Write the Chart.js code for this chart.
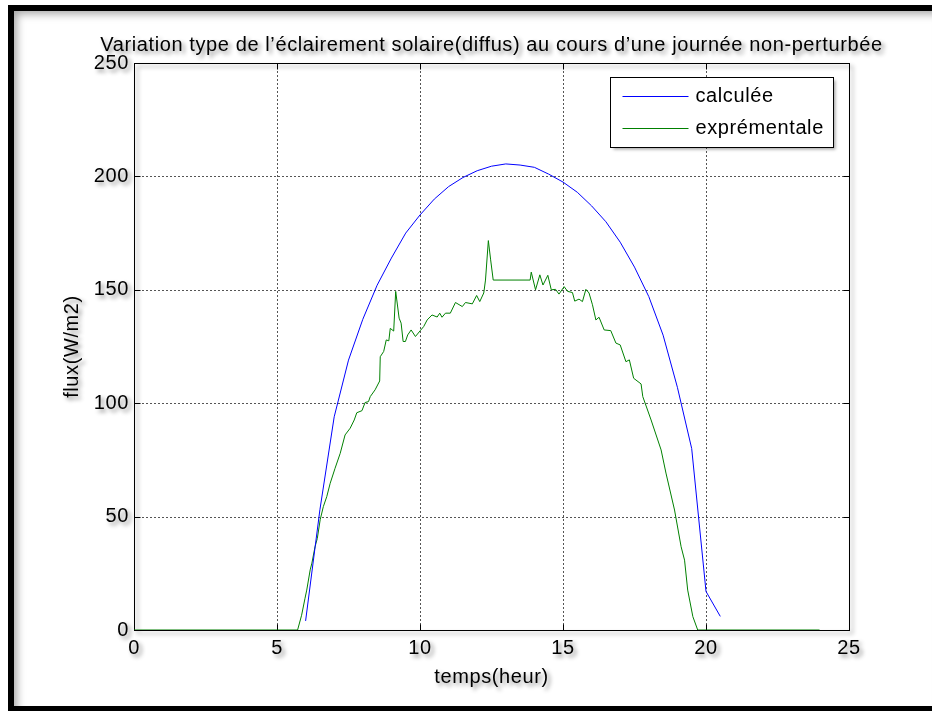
<!DOCTYPE html>
<html>
<head>
<meta charset="utf-8">
<title>Éclairement solaire diffus</title>
<script src="https://cdn.jsdelivr.net/npm/chart.js@4/dist/chart.umd.min.js"></script>
<style>
  html, body { margin: 0; padding: 0; background: #fff; overflow: hidden; width: 932px; height: 711px; }
  #frame {
    position: absolute; left: 8px; top: 5px; width: 918px; height: 695px;
    border-left: 6px solid #000; border-top: 6px solid #000; border-bottom: 5px solid #000;
    box-shadow: inset 6px 6px 8px -3px rgba(0, 0, 0, 0.35);
  }
  #fluxChart { position: absolute; left: 0; top: 0; }
</style>
</head>
<body>
<div id="frame"></div>
<canvas id="fluxChart" width="932" height="711"></canvas>
<script>
const chartTitle = 'Variation type de l’éclairement solaire(diffus) au cours d’une journée non-perturbée';

// axes
const xTicks = [0, 5, 10, 15, 20, 25];
const yTicks = [0, 50, 100, 150, 200, 250];

// modele (pas d'une demi-heure)
const hoursCalc = [6, 6.5, 7, 7.5, 8, 8.5, 9, 9.5, 10, 10.5, 11, 11.5, 12, 12.5, 13,
    13.5, 14, 14.5, 15, 15.5, 16, 16.5, 17, 17.5, 18, 18.5, 19, 19.5, 20, 20.5];
const fluxCalc = [4, 53, 94, 119, 137, 152, 164, 175, 183, 190, 195.5, 199.5, 202.5, 204.5, 205.5,
    205, 204, 201, 197.5, 193, 187, 180, 171, 160, 147, 130, 107, 80, 17, 6];

// mesures
const hoursMes = [0, 5.72, 5.86, 5.98, 6.04, 6.16, 6.22, 6.33, 6.41, 6.51, 6.62, 6.74, 6.86, 7.03,
    7.21, 7.38, 7.56, 7.70, 7.79, 7.97, 8.08, 8.20, 8.26, 8.43, 8.59, 8.61, 8.73, 8.82, 8.91, 8.96,
    9.08, 9.15, 9.27, 9.34, 9.41, 9.49, 9.57, 9.69, 9.84, 10.01, 10.13, 10.25, 10.42, 10.60, 10.69,
    10.77, 10.89, 11.06, 11.24, 11.48, 11.59, 11.83, 11.98, 12.09, 12.23, 12.29, 12.39, 12.47, 12.56,
    13.85, 13.89, 14.04, 14.19, 14.30, 14.47, 14.59, 14.74, 14.86, 15.04, 15.16, 15.33, 15.41, 15.56,
    15.68, 15.80, 15.91, 16.03, 16.15, 16.26, 16.44, 16.67, 16.85, 17.00, 17.20, 17.32, 17.47, 17.73,
    17.79, 18.08, 18.43, 18.60, 18.90, 19.13, 19.25, 19.36, 19.54, 19.71, 23.97];
const fluxMes = [0, 0, 6.5, 14, 17.6, 26.5, 29.5, 36.7, 40.4, 48.6, 54.4, 58.8, 64.7, 71.3,
    77.9, 86, 89, 92.6, 95.8, 96.7, 100.3, 100.7, 102.9, 105.9, 109.8, 120.5, 122.8, 127.9, 127.5, 133,
    131.8, 149.3, 137.5, 135.3, 127.2, 127.2, 130.1, 132.3, 129.4, 132, 133.8, 136.7, 138.9, 138, 139.7,
    137.9, 139.7, 139.7, 144.4, 142.6, 144.4, 143.8, 147.5, 144.8, 148.6, 154.3, 171.7, 163.2, 154.3,
    154.3, 157.8, 150, 156.6, 152.1, 156.4, 150, 150.2, 148.1, 151.4, 149.3, 148.8, 145, 145.9,
    144.8, 150.2, 148.6, 143.4, 136.7, 137.9, 132.3, 132, 126.5, 125.7, 118.3, 119.1, 111, 108.5,
    102.9, 92.6, 79.4, 69.2, 52.9, 36.7, 30.8, 17.6, 5.9, 0, 0];

const FONT = 'Liberation Sans, Arial, Helvetica, sans-serif';
const SPACING = '0.6px';

function toPoints(xs, ys) {
    return xs.map((x, i) => ({ x: x, y: ys[i] }));
}

function textShadow(ctx, on) {
    ctx.shadowColor = on ? 'rgba(0, 0, 0, 0.45)' : 'rgba(0, 0, 0, 0)';
    ctx.shadowBlur = on ? 4 : 0;
    ctx.shadowOffsetX = on ? 3 : 0;
    ctx.shadowOffsetY = on ? 3 : 0;
}

// grille pointillee, cadre, graduations vers l'interieur et titre centre sur les axes (style matlab)
const matlabAxes = {
    id: 'matlabAxes',
    beforeDraw(chart) {
        const { ctx, chartArea: a, scales: { x, y } } = chart;
        ctx.save();
        ctx.lineWidth = 1;
        ctx.strokeStyle = '#555';
        ctx.setLineDash([2, 2]);
        ctx.beginPath();
        x.ticks.forEach(t => {
            const px = Math.round(x.getPixelForValue(t.value)) + 0.5;
            if (px > a.left + 1 && px < a.right - 1) {
                ctx.moveTo(px, a.top);
                ctx.lineTo(px, a.bottom);
            }
        });
        y.ticks.forEach(t => {
            const py = Math.round(y.getPixelForValue(t.value)) + 0.5;
            if (py > a.top + 1 && py < a.bottom - 1) {
                ctx.moveTo(a.left, py);
                ctx.lineTo(a.right, py);
            }
        });
        ctx.stroke();
        ctx.setLineDash([]);

        const l = Math.round(a.left) + 0.5, r = Math.round(a.right) + 0.5;
        const t0 = Math.round(a.top) + 0.5, b = Math.round(a.bottom) + 0.5;
        ctx.strokeStyle = '#000';
        textShadow(ctx, true);
        ctx.strokeRect(l, t0, r - l, b - t0);
        textShadow(ctx, false);

        ctx.beginPath();
        x.ticks.forEach(t => {
            const px = Math.round(x.getPixelForValue(t.value)) + 0.5;
            ctx.moveTo(px, b); ctx.lineTo(px, b - 6);
            ctx.moveTo(px, t0); ctx.lineTo(px, t0 + 6);
        });
        y.ticks.forEach(t => {
            const py = Math.round(y.getPixelForValue(t.value)) + 0.5;
            ctx.moveTo(l, py); ctx.lineTo(l + 6, py);
            ctx.moveTo(r, py); ctx.lineTo(r - 6, py);
        });
        ctx.stroke();

        // titre : plus large que la zone des axes, donc dessine ici
        textShadow(ctx, true);
        ctx.letterSpacing = SPACING;
        ctx.font = '20px ' + FONT;
        ctx.fillStyle = '#000';
        ctx.textAlign = 'center';
        ctx.textBaseline = 'middle';
        ctx.fillText(chartTitle, (a.left + a.right) / 2, a.top - 18);
        ctx.restore();

        // les textes des axes sont dessines ensuite, avec une ombre
        textShadow(ctx, true);
        ctx.letterSpacing = SPACING;
    },
    beforeDatasetsDraw(chart) {
        textShadow(chart.ctx, false);
    }
};

// legende encadree en haut a droite
const boxLegend = {
    id: 'boxLegend',
    afterDatasetsDraw(chart) {
        const { ctx, chartArea: a } = chart;
        const w = 223, h = 70;
        const left = Math.round(a.right - 16 - w) + 0.5, top = Math.round(a.top + 14) + 0.5;
        ctx.save();
        ctx.fillStyle = '#fff';
        ctx.shadowColor = 'rgba(0, 0, 0, 0.35)';
        ctx.shadowBlur = 3;
        ctx.shadowOffsetX = 2;
        ctx.shadowOffsetY = 2;
        ctx.fillRect(left, top, w, h);
        textShadow(ctx, false);
        ctx.strokeStyle = '#000';
        ctx.lineWidth = 1;
        ctx.strokeRect(left, top, w, h);
        ctx.font = '20px ' + FONT;
        ctx.letterSpacing = SPACING;
        ctx.textBaseline = 'middle';
        ctx.fillStyle = '#000';
        chart.data.datasets.forEach((ds, i) => {
            const yy = Math.round(top + 18 + i * 32) + 0.5;
            ctx.strokeStyle = ds.borderColor;
            ctx.beginPath();
            ctx.moveTo(left + 12, yy);
            ctx.lineTo(left + 78, yy);
            ctx.stroke();
            ctx.fillText(ds.label, left + 85, yy);
        });
        ctx.restore();
    }
};

const ctxFlux = document.getElementById('fluxChart').getContext('2d');
const fluxChart = new Chart(ctxFlux, {
    type: 'line',
    data: {
        datasets: [
            {
                label: 'calculée',
                data: toPoints(hoursCalc, fluxCalc),
                borderColor: '#0000ff',
                borderWidth: 1,
                pointRadius: 0,
                fill: false,
            },
            {
                label: 'exprémentale',
                data: toPoints(hoursMes, fluxMes),
                borderColor: '#008000',
                borderWidth: 1,
                pointRadius: 0,
                fill: false,
            }
        ]
    },
    options: {
        responsive: false,
        animation: false,
        events: [],
        layout: { padding: { left: 0, right: 83, top: 63, bottom: 0 } },
        plugins: {
            legend: { display: false },
            tooltip: { enabled: false },
            title: { display: false }
        },
        scales: {
            x: {
                type: 'linear',
                min: 0,
                max: 25,
                afterBuildTicks: s => { s.ticks = xTicks.map(v => ({ value: v })); },
                afterFit: s => { s.height = 81; },
                grid: { display: false, drawTicks: false },
                border: { display: false },
                ticks: { color: '#000', padding: 6, font: { family: FONT, size: 20 } },
                title: {
                    display: true,
                    text: 'temps(heur)',
                    color: '#000',
                    font: { family: FONT, size: 20 },
                    padding: { top: 0, bottom: 22 }
                }
            },
            y: {
                min: 0,
                max: 250,
                afterBuildTicks: s => { s.ticks = yTicks.map(v => ({ value: v })); },
                afterFit: s => { s.width = 134; },
                grid: { display: false, drawTicks: false },
                border: { display: false },
                ticks: { color: '#000', padding: 5, font: { family: FONT, size: 20 } },
                title: {
                    display: true,
                    text: 'flux(W/m2)',
                    color: '#000',
                    font: { family: FONT, size: 20 },
                    padding: { top: 60, bottom: 0 }
                }
            }
        }
    },
    plugins: [matlabAxes, boxLegend]
});
</script>
</body>
</html>
